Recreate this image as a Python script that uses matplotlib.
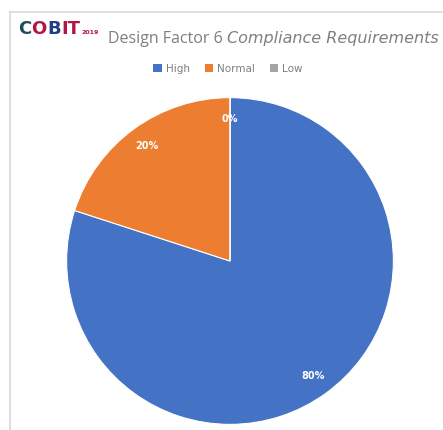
import matplotlib
matplotlib.use("Agg")
import matplotlib.pyplot as plt
from matplotlib.lines import Line2D
from matplotlib.patches import Patch

# chart data
categories = ["High", "Normal", "Low"]
values = [80, 20, 0]
colors = ["#4472C4", "#ED7D31", "#A5A5A5"]

W, H = 443, 430
fig = plt.figure(figsize=(W / 100, H / 100), dpi=100)
fig.patch.set_facecolor("white")

# light frame at top and left (chart area border)
fig.add_artist(Line2D([10 / W, 1], [1 - 12 / H, 1 - 12 / H], color="#d9d9d9", lw=1.2))
fig.add_artist(Line2D([10 / W, 10 / W], [0, 1 - 12 / H], color="#d9d9d9", lw=1.2))

# pie axes: centre ~(230, 261) px, radius ~165 px
cx, cy, r = 230, 261, 165
ax = fig.add_axes([(cx - r) / W, (H - cy - r) / H, 2 * r / W, 2 * r / H])
wedges, texts, autotexts = ax.pie(
    values, colors=colors, startangle=90, counterclock=False,
    autopct=lambda p: "%.0f%%" % p, pctdistance=0.87,
    wedgeprops=dict(edgecolor="white", linewidth=0.8),
    textprops=dict(color="white", fontsize=7, fontweight="bold"))
ax.set_xlim(-1.01, 1.01)
ax.set_ylim(-1.01, 1.01)
ax.set_aspect("equal")
ax.axis("off")

# COBIT logo, pieces placed side by side
fig.canvas.draw()
rend = fig.canvas.get_renderer()
logo_y = 1 - 29 / H
x = 18
for s, c in [("C", "#1d4d5c"), ("O", "#b2183f"), ("B", "#1f3f86"), ("IT", "#b2183f")]:
    t = fig.text(x / W, logo_y, s, color=c, fontsize=13, fontweight="bold",
                 family="DejaVu Sans", va="center")
    x = t.get_window_extent(rend).x1 + 0.3
fig.text((x + 1) / W, 1 - 32 / H, "2019", color="#b2183f", fontsize=4.5,
         fontweight="bold", va="center")

# title
ty = 1 - 39 / H
t1 = fig.text(108 / W, ty, "Design Factor 6 ", color="#7f7f7f", fontsize=11.5,
              family="Open Sans", va="center")
bb = t1.get_window_extent(rend)
fig.text(bb.x1 / W, ty, "Compliance Requirements", color="#7f7f7f", fontsize=11.5,
         family="DejaVu Sans", style="italic", va="center")

# legend
handles = [Patch(facecolor=c, edgecolor="none") for c in colors]
fig.legend(handles, categories, loc="center", bbox_to_anchor=(228 / W, 1 - 69 / H),
           ncol=3, frameon=False, fontsize=7.5, labelcolor="#7f7f7f",
           handlelength=0.8, handleheight=0.8, handletextpad=0.4, columnspacing=1.4)

plt.savefig("out.png", dpi=100, facecolor="white")
